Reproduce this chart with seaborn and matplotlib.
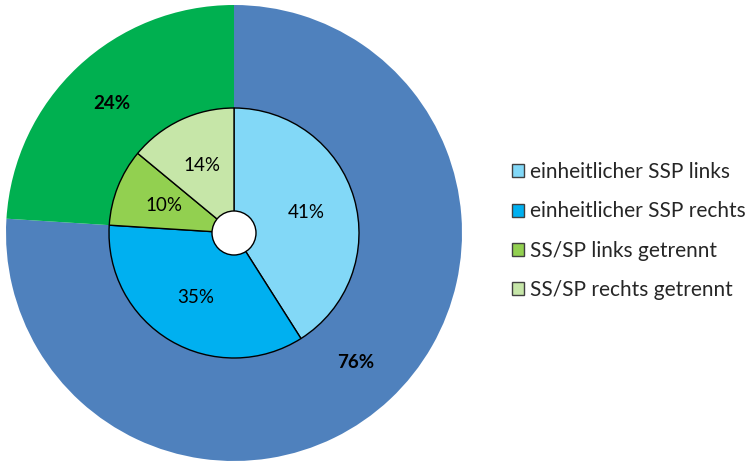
import matplotlib
matplotlib.use("Agg")
import matplotlib.pyplot as plt
import seaborn as sns
from matplotlib.patches import Patch, Circle

sns.set_theme(style="white")
plt.rcParams['font.family'] = ['Lato', 'DejaVu Sans']

outer_labels = ["rechts", "links"]
outer_values = [76, 24]
outer_colors = ["#4F81BD", "#00B050"]

inner_labels = ["einheitlicher SSP links", "einheitlicher SSP rechts",
                "SS/SP links getrennt", "SS/SP rechts getrennt"]
inner_values = [41, 35, 10, 14]
inner_colors = ["#82D8F7", "#00B0F0", "#92D050", "#C6E6A8"]

W, H = 751, 461
fig = plt.figure(figsize=(W / 100, H / 100), dpi=100)
ax = fig.add_axes([0, 0, 1, 1])
ax.set_xlim(0, W)
ax.set_ylim(0, H)
ax.set_aspect('equal')
ax.axis('off')

cx, cy = 234, H - 233
R_out, R_in, R_hole = 228, 125, 22

fmt = lambda p: f"{p:.0f}%"

w1, t1, a1 = ax.pie(outer_values, colors=outer_colors, startangle=90, counterclock=False,
                    radius=R_out, center=(cx, cy), autopct=fmt, pctdistance=0.78,
                    wedgeprops=dict(linewidth=0), frame=True)
for t in a1:
    t.set_fontsize(13.5)
    t.set_fontweight('bold')
    t.set_color('black')

w2, t2, a2 = ax.pie(inner_values, colors=inner_colors, startangle=90, counterclock=False,
                    radius=R_in, center=(cx, cy), autopct=fmt, pctdistance=0.6,
                    wedgeprops=dict(linewidth=1.0, edgecolor='black'), frame=True)
for t in a2:
    t.set_fontsize(13.5)
    t.set_color('black')

ax.add_patch(Circle((cx, cy), R_hole, facecolor='white', edgecolor='black', linewidth=1.0, zorder=5))

ax.set_xlim(0, W)
ax.set_ylim(0, H)
ax.axis('off')

handles = [Patch(facecolor=c, edgecolor='#404040', linewidth=1.0) for c in inner_colors]
fig.legend(handles, inner_labels, loc='center left', bbox_to_anchor=(512 / W, (H - 231) / H),
           frameon=False, fontsize=15, handlelength=0.58, handleheight=0.58,
           handletextpad=0.3, labelspacing=0.92, borderaxespad=0, borderpad=0)

fig.savefig("out.png", dpi=100)
